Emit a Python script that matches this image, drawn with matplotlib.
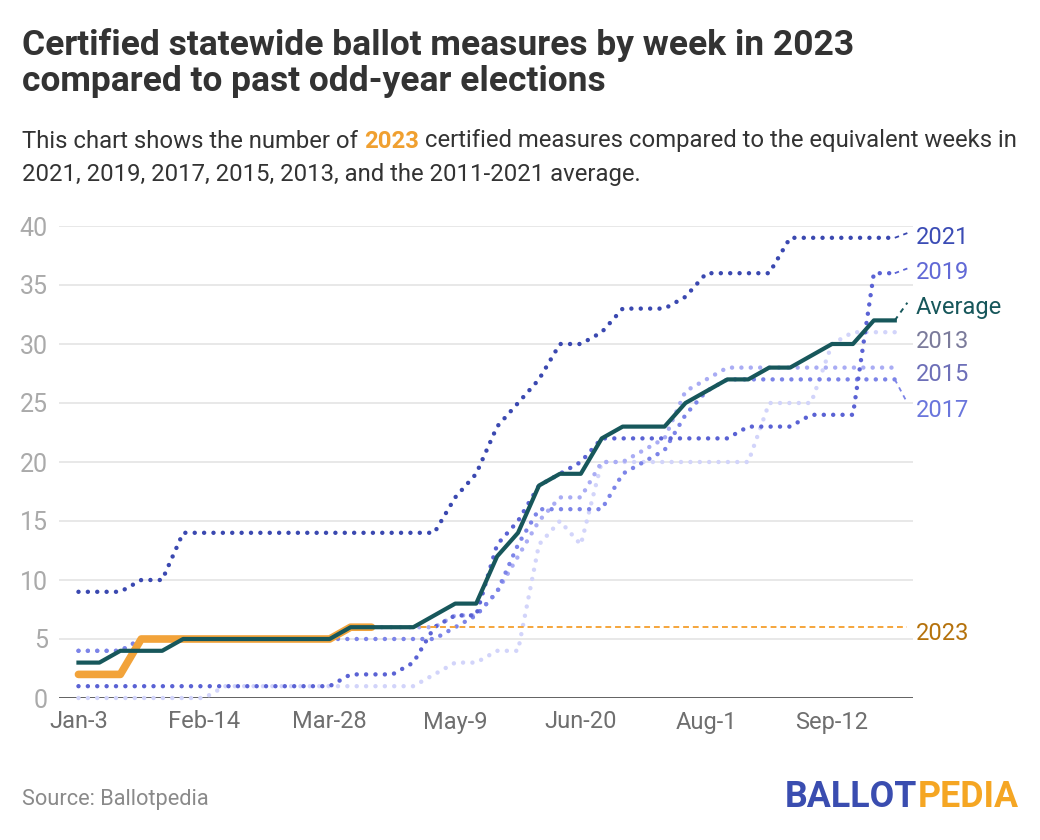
import matplotlib
matplotlib.use('Agg')
import matplotlib.pyplot as plt

plt.rcParams['font.family'] = ['Roboto', 'DejaVu Sans']

# week index 0 = Jan-3, one point per week
weeks = list(range(40))
tick_weeks = [0, 6, 12, 18, 24, 30, 36]
tick_labels = ['Jan-3', 'Feb-14', 'Mar-28', 'May-9', 'Jun-20', 'Aug-1', 'Sep-12']

y2021 = [9, 9, 9, 10, 10, 14, 14, 14, 14, 14, 14, 14, 14, 14, 14, 14, 14, 14, 17, 19,
         23, 25, 27, 30, 30, 31, 33, 33, 33, 34, 36, 36, 36, 36, 39, 39, 39, 39, 39, 39]
y2019 = [1, 1, 1, 1, 1, 1, 1, 1, 1, 1, 1, 1, 1, 2, 2, 2, 3, 6, 7, 7,
         13, 15, 18, 19, 20, 22, 22, 22, 22, 22, 22, 22, 23, 23, 23, 24, 24, 24, 36, 36]
y2017 = [4, 4, 4, 5, 5, 5, 5, 5, 5, 5, 5, 5, 5, 5, 5, 5, 5, 5, 6, 7,
         9, 13, 16, 16, 16, 16, 19, 20, 21, 24, 26, 27, 27, 27, 27, 27, 27, 27, 27, 27]
y2015 = [4, 4, 4, 5, 5, 5, 5, 5, 5, 5, 5, 5, 5, 6, 6, 6, 6, 6, 7, 7,
         9, 12, 15, 17, 17, 20, 20, 21, 22, 26, 27, 28, 28, 28, 28, 28, 28, 28, 28, 28]
y2013 = [0, 0, 0, 0, 0, 0, 0, 1, 1, 1, 1, 1, 1, 1, 1, 1, 1, 2, 3, 3,
         4, 4, 13, 15, 13, 20, 20, 20, 20, 20, 20, 20, 20, 25, 25, 25, 30, 31, 31, 31]
y_avg = [3, 3, 4, 4, 4, 5, 5, 5, 5, 5, 5, 5, 5, 6, 6, 6, 6, 7, 8, 8,
         12, 14, 18, 19, 19, 22, 23, 23, 23, 25, 26, 27, 27, 28, 28, 29, 30, 30, 32, 32]
y2023 = [2, 2, 2, 5, 5, 5, 5, 5, 5, 5, 5, 5, 5, 6, 6]

# partial last week (dashed end segment)
last_week = 39.6
end_2021 = 39.4
end_2019 = 36.4
end_2017 = 25
end_avg = 33.5

label_names = ['2021', '2019', 'Average', '2013', '2015', '2017', '2023']
label_y = [39.0, 36.1, 33.1, 30.2, 27.4, 24.4, 5.5]
label_colors = ['#3b4cb5', '#6169d6', '#17575b', '#7b7b9b', '#6d6fb8', '#6a76dc', '#b5720c']

fig = plt.figure(figsize=(10.4, 8.4), dpi=100)
ax = fig.add_axes([59/1040, 142/840, 854/1040, 472/840])
ax.set_xlim(-0.93, 39.87)
ax.set_ylim(0, 40)

for s in ax.spines.values():
    s.set_visible(False)
for v in range(5, 41, 5):
    ax.axhline(v, color='#e4e4e4', lw=1.2, zorder=0)
ax.axhline(0, color='#333333', lw=1.8, zorder=1)

dots = (0, (0.01, 2.1))
def dotted(vals, end, color, z):
    ax.plot(weeks[:len(vals)], vals, color=color, lw=3.2, ls=dots,
            dash_capstyle='round', zorder=z, clip_on=False)
    if end is not None:
        ax.plot([weeks[len(vals)-1], last_week], [vals[-1], end], color=color,
                lw=1.3, ls=(0, (2.5, 2.5)), zorder=z, clip_on=False)

dotted(y2013, None, '#d2d4fa', 2)
dotted(y2015, None, '#a9acf4', 3)
dotted(y2017, end_2017, '#7c84e8', 4)
dotted(y2019, end_2019, '#5a62d4', 5)
dotted(y2021, end_2021, '#3a48b0', 6)

# 2023 so far, plus reference line at its latest value
ax.plot(weeks[:len(y2023)], y2023, color='#f2a33a', lw=5.5,
        solid_capstyle='round', solid_joinstyle='round', zorder=7)
ax.plot([weeks[len(y2023)-1], last_week], [y2023[-1], y2023[-1]],
        color='#f5a53b', lw=1.4, ls=(0, (3, 2)), zorder=7)

ax.plot(weeks, y_avg, color='#17575b', lw=3, solid_joinstyle='round', zorder=8)
ax.plot([weeks[-1], last_week], [y_avg[-1], end_avg], color='#17575b',
        lw=1.4, ls=(0, (2.5, 2.5)), zorder=8, clip_on=False)

for name, yy, c in zip(label_names, label_y, label_colors):
    ax.text(40.0, yy, name, color=c, fontsize=17, ha='left', va='center')

ax.set_yticks(range(0, 41, 5))
ax.set_xticks(tick_weeks)
ax.set_xticklabels(tick_labels)
ax.tick_params(axis='y', length=0, pad=8, labelsize=18, labelcolor='#aaaaaa')
ax.tick_params(axis='x', length=0, pad=9, labelsize=17, labelcolor='#6f6f6f')

W, H = 1040, 840
r = fig.canvas.get_renderer()

def fit(t, target):
    w = t.get_window_extent(r).width
    t.set_fontsize(t.get_fontsize() * target / w)

t1 = fig.text(22/W, 1 - 45/H, 'Certified statewide ballot measures by week in 2023',
              fontsize=22, weight='bold', color='#333333', va='center')
fit(t1, 831)
fig.text(22/W, 1 - 82/H, 'compared to past odd-year elections', fontsize=t1.get_fontsize(),
         weight='bold', color='#333333', va='center')

s2 = fig.text(22/W, 1 - 174/H, '2021, 2019, 2017, 2015, 2013, and the 2011-2021 average.',
              fontsize=15, color='#333333', va='center')
fit(s2, 617)
fs = s2.get_fontsize()
x = 22
for txt, kw in [('This chart shows the number of ', dict(color='#333333')),
                ('2023', dict(color='#f0a030', weight='bold')),
                (' certified measures compared to the equivalent weeks in', dict(color='#333333'))]:
    t = fig.text(x/W, 1 - 141/H, txt, fontsize=fs, va='center', **kw)
    x = t.get_window_extent(r).x1

src = fig.text(22/W, 1 - 799/H, 'Source: Ballotpedia', fontsize=15, color='#8a8a8a', va='center')
fit(src, 188)

# logo: two coloured halves, fitted to the logo width
b = fig.text(785/W, 1 - 797/H, 'BALLOT', fontsize=24, weight='bold', color='#3a4db0',
             va='center')
p = fig.text(0, 1 - 797/H, 'PEDIA', fontsize=24, weight='bold', color='#f5a623', va='center')
wb = b.get_window_extent(r).width
wp = p.get_window_extent(r).width
k = 233 / (wb + wp)
b.set_fontsize(24 * k)
p.set_fontsize(24 * k)
p.set_x(b.get_window_extent(r).x1 / W)

fig.savefig('out.png', dpi=100)
